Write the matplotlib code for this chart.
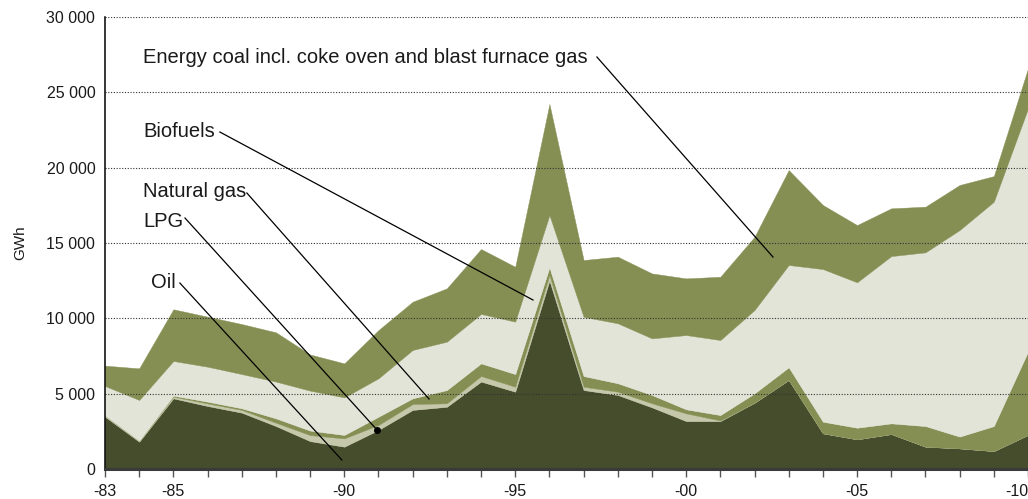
import numpy as np
import matplotlib
matplotlib.use("Agg")
import matplotlib.pyplot as plt

plt.rcParams['font.family'] = ['Liberation Sans', 'DejaVu Sans']

# GWh per year
years = list(range(1983, 2011))
oil = [3470, 1810, 4690, 4180, 3740, 2850, 1850, 1480, 2590, 3920,
       4130, 5800, 5130, 12500, 5240, 4910, 4090, 3180, 3180, 4400,
       5910, 2370, 1970, 2320, 1480, 1370, 1190, 2260]
lpg = [80, 60, 110, 170, 180, 220, 400, 550, 330, 390,
       230, 370, 330, 370, 220, 220, 270, 510, 40, 0,
       0, 0, 0, 0, 0, 0, 0, 0]
natgas = [0, 0, 70, 120, 110, 290, 300, 230, 550, 380,
          880, 840, 840, 510, 710, 560, 550, 270, 360, 620,
          840, 770, 770, 710, 1370, 780, 1660, 5530]
biofuels = [1960, 2710, 2300, 2320, 2270, 2440, 2650, 2490, 2550, 3210,
            3210, 3280, 3480, 3470, 3930, 3980, 3760, 4930, 4980, 5530,
            6790, 10130, 9650, 11100, 11530, 13710, 14890, 16140]
coal = [1350, 2100, 3430, 3320, 3320, 3270, 2400, 2260, 3200, 3200,
        3540, 4310, 3640, 7370, 3770, 4420, 4310, 3760, 4200, 4860,
        6300, 4250, 3800, 3170, 3030, 2990, 1700, 2660]

tick_years = [1983, 1985, 1990, 1995, 2000, 2005, 2010]
tick_labels = ['-83', '-85', '-90', '-95', '-00', '-05', '-10']

c_oil = '#454d2c'
c_lpg = '#c5c8aa'
c_green = '#868f53'
c_bio = '#e3e4d8'

fig = plt.figure(figsize=(10.28, 4.99), dpi=100)
ax = fig.add_axes([105 / 1028, 30 / 499, 923 / 1028, 452 / 499])

polys = ax.stackplot(years, oil, lpg, natgas, biofuels, coal,
                     colors=[c_oil, c_lpg, c_green, c_bio, c_green])
for p in polys:
    p.set_edgecolor(p.get_facecolor())
    p.set_linewidth(0.3)

ax.set_xlim(1983, 2010)
ax.set_ylim(0, 30000)

ax.set_yticks(np.arange(0, 30001, 5000))
ax.set_yticklabels(['0' if v == 0 else f'{v // 1000} 000' for v in range(0, 30001, 5000)])
ax.set_xticks(years, minor=True)
ax.set_xticks(tick_years)
ax.set_xticklabels(tick_labels)
# last label sits at the right edge, keep it inside the picture
ax.get_xticklabels()[-1].set_horizontalalignment('right')

ax.tick_params(axis='y', length=0, pad=7, labelsize=11.5, colors='#1a1a1a')
ax.tick_params(axis='x', which='both', length=6, width=1, color='#555555',
               pad=5, labelsize=11.5, labelcolor='#1a1a1a')

ax.set_axisbelow(False)
ax.yaxis.grid(True, linestyle=(0, (1, 1.5)), color='#333333', linewidth=0.8)
ax.xaxis.grid(False)

for s in ['top', 'right']:
    ax.spines[s].set_visible(False)
ax.spines['left'].set_color('black')
ax.spines['left'].set_linewidth(1.1)
ax.spines['left'].set_zorder(6)
ax.spines['bottom'].set_color('#3a3a3a')
ax.spines['bottom'].set_linewidth(2.2)
ax.spines['bottom'].set_zorder(6)

ax.set_ylabel('GWh', fontsize=11, color='#1a1a1a')
ax.yaxis.set_label_coords(-0.084, 0.5)

# labels with leader lines (text pos, line start, line end)
lab_fs = 14.5
ax.text(1984.11, 27345, 'Energy coal incl. coke oven and blast furnace gas',
        fontsize=lab_fs, va='center', ha='left', color='#1a1a1a')
ax.plot([1997.39, 2002.54], [27345, 14070], color='black', lw=0.9, zorder=5)

ax.text(1984.11, 22400, 'Biofuels', fontsize=lab_fs, va='center', ha='left', color='#1a1a1a')
ax.plot([1986.36, 1995.52], [22367, 11217], color='black', lw=0.9, zorder=5)

ax.text(1984.11, 18385, 'Natural gas', fontsize=lab_fs, va='center', ha='left', color='#1a1a1a')
ax.plot([1987.15, 1992.48], [18318, 4646], color='black', lw=0.9, zorder=5)

ax.text(1984.11, 16460, 'LPG', fontsize=lab_fs, va='center', ha='left', color='#1a1a1a')
ax.plot([1985.34, 1990.96], [16659, 2588], color='black', lw=0.9, zorder=5)
ax.plot([1990.96], [2588], 'o', color='black', ms=4, zorder=5)

ax.text(1984.35, 12411, 'Oil', fontsize=lab_fs, va='center', ha='left', color='#1a1a1a')
ax.plot([1985.19, 1989.93], [12345, 597], color='black', lw=0.9, zorder=5)

fig.savefig('out.png', dpi=100)
